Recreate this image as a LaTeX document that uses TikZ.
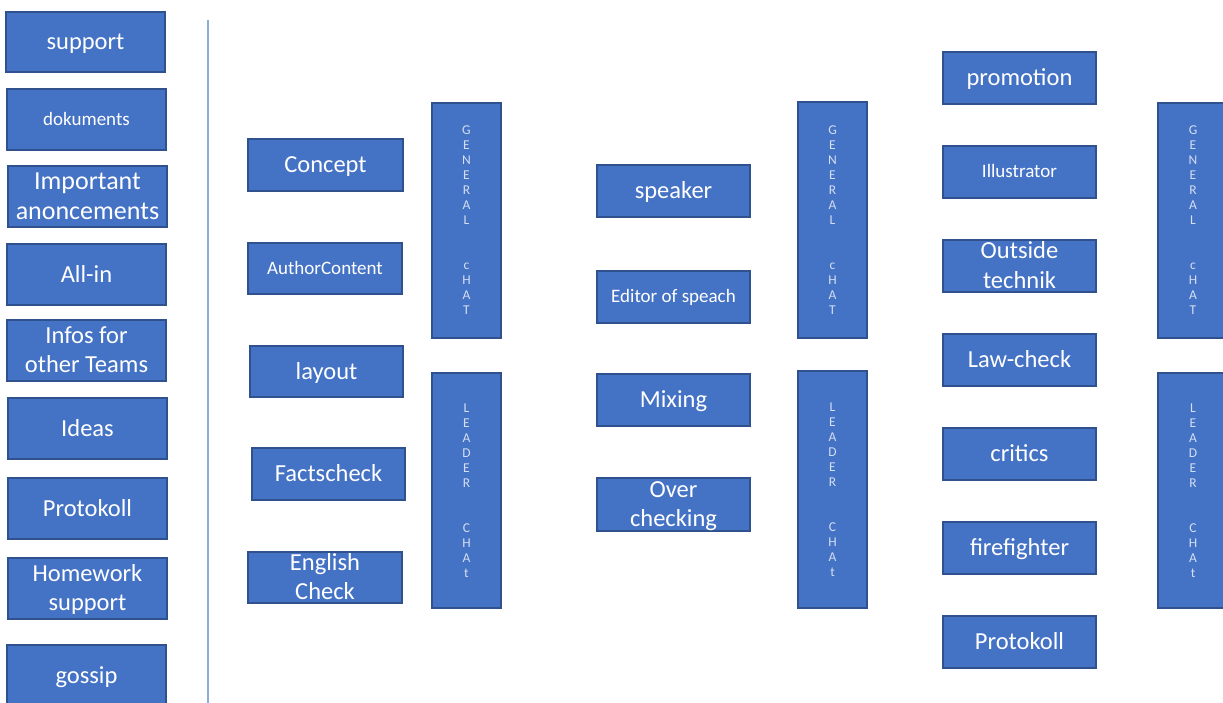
\documentclass[tikz,border=0pt]{standalone}
\usepackage{fontspec}
\setmainfont{Carlito}
\definecolor{boxfill}{HTML}{4472C4}
\definecolor{boxline}{HTML}{2F528F}
\definecolor{sepline}{HTML}{8FAADC}
\definecolor{vtext}{HTML}{D5DFF3}
\newcommand\st{\rule[-0.23em]{0pt}{1.08em}}
\newcommand\mybox[7]{%
  \node[box,
        minimum width={(#4-#2)*1pt}, minimum height={(#5-#3)*1pt},
        label={[boxtext, font=\fontsize{#6}{29.5}\selectfont]center:\st #7\st}]
        (#1) at ({(#2+#4)/2},{(#3+#5)/2}) {};}
\newcommand\chatbox[6]{%
  \node[box, text=vtext, font=\fontsize{13.5}{15}\selectfont,
        minimum width={(#4-#2)*1pt}, minimum height={(#5-#3)*1pt}]
        (#1) at ({(#2+#4)/2},{(#3+#5)/2}) {#6};}
\newcommand\gentext{G\\E\\N\\E\\R\\A\\L\\[30pt]c\\H\\A\\T}
\newcommand\leadtext{L\\E\\A\\D\\E\\R\\[30pt]C\\H\\A\\t}
\begin{document}
\begin{tikzpicture}[x=1pt,y=-1pt,
  box/.style={draw=boxline, line width=1.1pt, fill=boxfill, text=white,
              inner sep=0pt, align=center},
  boxtext/.style={text=white, inner sep=0pt, align=center},
  sep/.style={draw=sepline, line width=1.3pt}]
\useasboundingbox (0,0) rectangle (1223,702);
\clip (0,0) rectangle (1223,702);
\fill[white] (0,0) rectangle (1223,702);
% left column
\mybox{support}{6}{12}{165}{72}{24.5}{support}
\mybox{dokuments}{7}{89}{166}{150}{19}{dokuments}
\mybox{important}{8}{166}{167}{227}{26}{Important\\anoncements}
\mybox{allin}{7}{244}{166}{305}{24.5}{All-in}
\mybox{infos}{7}{320}{166}{381}{24.5}{Infos for\\other Teams}
\mybox{ideas}{8}{398}{167}{459}{24.5}{Ideas}
\mybox{protokollA}{8}{478}{167}{539}{24.5}{Protokoll}
\mybox{homework}{8}{558}{167}{619}{24.5}{Homework\\support}
\mybox{gossip}{7}{645}{166}{706}{24.5}{gossip}
% separator
\coordinate (s1) at (208,20);
\coordinate (s2) at (208,704);
\draw[sep] (s1) -- (s2);
% column 2
\mybox{concept}{248}{139}{403}{191}{24.5}{Concept}
\mybox{author}{248}{243}{402}{294}{19}{AuthorContent}
\mybox{layout}{250}{346}{403}{397}{24.5}{layout}
\mybox{facts}{252}{448}{405}{500}{24.5}{Factscheck}
\mybox{english}{248}{552}{402}{603}{24.5}{English\\Check}
\chatbox{genA}{432}{103}{501}{338}{\gentext}
\chatbox{leadA}{432}{373}{501}{608}{\leadtext}
% column 3
\mybox{speaker}{597}{165}{750}{217}{24.5}{speaker}
\mybox{editor}{597}{271}{750}{323}{19}{Editor of speach}
\mybox{mixing}{597}{374}{750}{426}{24.5}{Mixing}
\mybox{over}{597}{478}{750}{531}{24.5}{Over\\checking}
\chatbox{genB}{798}{102}{867}{338}{\gentext}
\chatbox{leadB}{798}{371}{867}{608}{\leadtext}
% column 4
\mybox{promotion}{943}{52}{1096}{104}{24.5}{promotion}
\mybox{illustrator}{943}{146}{1096}{198}{19}{Illustrator}
\mybox{outside}{943}{240}{1096}{292}{24.5}{Outside\\technik}
\mybox{law}{943}{334}{1096}{386}{24.5}{Law-check}
\mybox{critics}{943}{428}{1096}{480}{24.5}{critics}
\mybox{firefighter}{943}{522}{1096}{574}{24.5}{firefighter}
\mybox{protokollB}{943}{616}{1096}{668}{24.5}{Protokoll}
\chatbox{genC}{1158}{103}{1228}{338}{\gentext}
\chatbox{leadC}{1158}{373}{1228}{608}{\leadtext}
\end{tikzpicture}
\end{document}
